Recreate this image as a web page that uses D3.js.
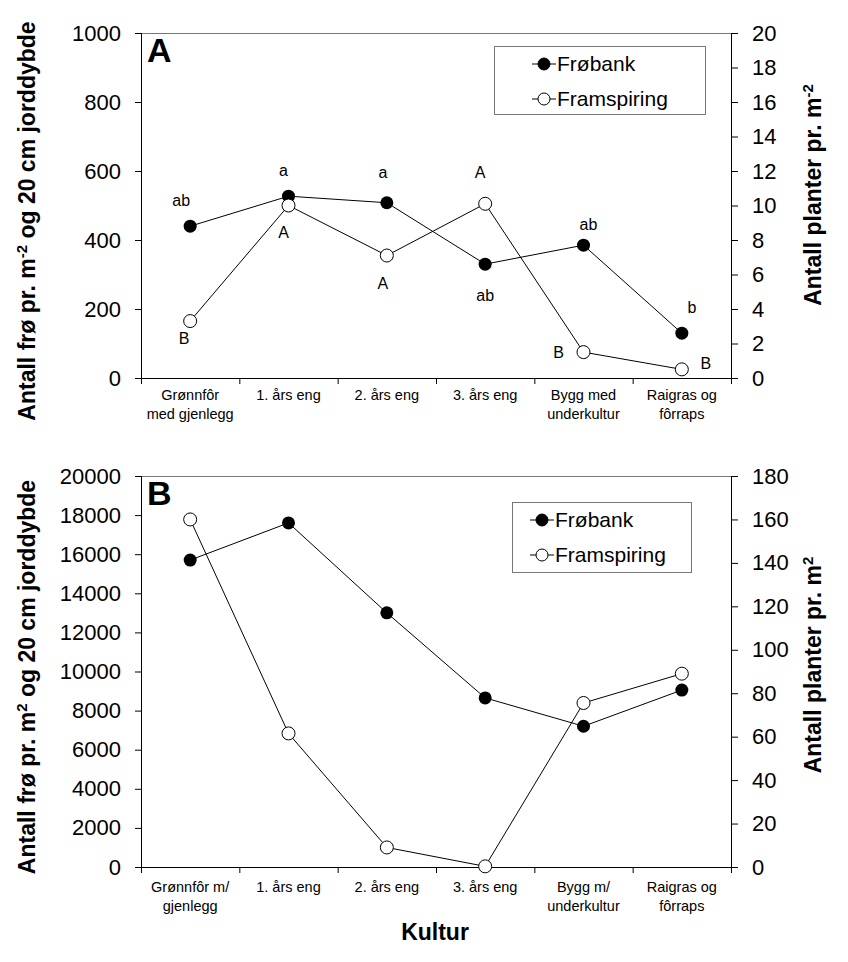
<!DOCTYPE html>
<html>
<head>
<meta charset="utf-8">
<script src="https://cdn.jsdelivr.net/npm/d3@7"></script>
<style>
  body { margin: 0; background: #fff; }
  text { font-family: "Liberation Sans", Arial, sans-serif; fill: #000; }
</style>
</head>
<body>
<div class="chart"></div>
<script>
// categories (each is one or two label lines)
const catsA = [["Grønnfôr", "med gjenlegg"], ["1. års eng"], ["2. års eng"], ["3. års eng"], ["Bygg med", "underkultur"], ["Raigras og", "fôrraps"]];
const catsB = [["Grønnfôr m/", "gjenlegg"], ["1. års eng"], ["2. års eng"], ["3. års eng"], ["Bygg m/", "underkultur"], ["Raigras og", "fôrraps"]];

// panel A values
const frobankA = [440, 527, 508, 330, 385, 130];        // left axis
const framspiringA = [3.3, 10.0, 7.1, 10.1, 1.5, 0.5];  // right axis
const lettersFrobankA = ["ab", "a", "a", "ab", "ab", "b"];
const lettersFramA = ["B", "A", "A", "A", "B", "B"];

// panel B values
const frobankB = [15700, 17600, 13000, 8650, 7200, 9050]; // left axis
const framspiringB = [160, 61.5, 9, 0.3, 75.5, 89];      // right axis

// ticks
const leftTicksA = [0, 200, 400, 600, 800, 1000];
const rightTicksA = [0, 2, 4, 6, 8, 10, 12, 14, 16, 18, 20];
const leftTicksB = [0, 2000, 4000, 6000, 8000, 10000, 12000, 14000, 16000, 18000, 20000];
const rightTicksB = [0, 20, 40, 60, 80, 100, 120, 140, 160, 180];

const width = 848, height = 962;
const svg = d3.select(".chart").append("svg")
  .attr("width", width)
  .attr("height", height);

// letter offsets from the point (label centre)
const offFro = [[-9, -26], [-5, -26], [-4, -30], [0, 31], [5, -21], [10, -26]];
const offFram = [[-6, 17], [-5, 27], [-4, 28], [-5, -31], [-25, 0], [24, -6]];

function panel(o) {
  const g = svg.append("g");
  const x = d3.scaleBand().domain(d3.range(6)).range([o.left, o.right]);
  const xEdge = d3.scaleLinear().domain([0, 6]).range([o.left, o.right]);
  const yL = d3.scaleLinear().domain([0, o.leftTicks[o.leftTicks.length - 1]]).range([o.bottom, o.top]);
  const yR = d3.scaleLinear().domain([0, o.rightTicks[o.rightTicks.length - 1]]).range([o.bottom, o.top]);

  // frame top
  g.append("line")
    .attr("x1", o.left).attr("x2", o.right)
    .attr("y1", o.top + 0.5).attr("y2", o.top + 0.5)
    .attr("stroke", "#777");

  // left axis
  g.append("g")
    .attr("transform", `translate(${o.left},0)`)
    .call(d3.axisLeft(yL).tickValues(o.leftTicks).tickSize(6).tickPadding(14).tickFormat(d3.format("d")))
    .call(a => a.selectAll("text").style("font-size", "22px"))
    .call(a => a.select(".domain").attr("d", `M0.5,${o.top}V${o.bottom}`));

  // right axis
  g.append("g")
    .attr("transform", `translate(${o.right},0)`)
    .call(d3.axisRight(yR).tickValues(o.rightTicks).tickSize(7).tickPadding(14).tickFormat(d3.format("d")))
    .call(a => a.selectAll("text").style("font-size", "22px"))
    .call(a => a.select(".domain").attr("d", `M0.5,${o.top}V${o.bottom}`));

  // bottom axis, ticks on category edges
  g.append("g")
    .attr("transform", `translate(0,${o.bottom})`)
    .call(d3.axisBottom(xEdge).tickValues(d3.range(7)).tickSize(6).tickFormat(""))
    .call(a => a.select(".domain").attr("d", `M${o.left},0.5H${o.right}`));

  // category labels
  const lab = g.append("g").selectAll("text")
    .data(o.cats)
    .join("text")
    .attr("text-anchor", "middle")
    .style("font-size", "14.5px");
  lab.selectAll("tspan")
    .data((d, i) => d.map(s => ({s, i})))
    .join("tspan")
    .attr("x", d => x(d.i) + x.bandwidth() / 2)
    .attr("y", (d, j) => o.labelY + j * 18.5)
    .text(d => d.s);

  const line = d3.line().x((d, i) => x(i) + x.bandwidth() / 2);

  // Frøbank (left)
  g.append("path")
    .datum(o.fro)
    .attr("fill", "none").attr("stroke", "#000").attr("stroke-width", 1)
    .attr("d", line.y(d => yL(d)));
  // Framspiring (right)
  g.append("path")
    .datum(o.fram)
    .attr("fill", "none").attr("stroke", "#000").attr("stroke-width", 1)
    .attr("d", line.y(d => yR(d)));

  g.append("g").selectAll("circle")
    .data(o.fro)
    .join("circle")
    .attr("cx", (d, i) => x(i) + x.bandwidth() / 2)
    .attr("cy", d => yL(d))
    .attr("r", 6.5)
    .attr("fill", "#000");
  g.append("g").selectAll("circle")
    .data(o.fram)
    .join("circle")
    .attr("cx", (d, i) => x(i) + x.bandwidth() / 2)
    .attr("cy", d => yR(d))
    .attr("r", 6.5)
    .attr("fill", "#fff").attr("stroke", "#000");

  // significance letters
  if (o.lettersFro) {
    g.append("g").selectAll("text")
      .data(o.lettersFro)
      .join("text")
      .attr("x", (d, i) => x(i) + x.bandwidth() / 2 + offFro[i][0])
      .attr("y", (d, i) => yL(o.fro[i]) + offFro[i][1])
      .attr("dy", "0.35em")
      .attr("text-anchor", "middle")
      .style("font-size", "16px")
      .text(d => d);
    g.append("g").selectAll("text")
      .data(o.lettersFram)
      .join("text")
      .attr("x", (d, i) => x(i) + x.bandwidth() / 2 + offFram[i][0])
      .attr("y", (d, i) => yR(o.fram[i]) + offFram[i][1])
      .attr("dy", "0.35em")
      .attr("text-anchor", "middle")
      .style("font-size", "16px")
      .text(d => d);
  }

  // panel letter
  g.append("text")
    .attr("x", o.left + 6).attr("y", o.top + 29)
    .style("font-size", "34px").style("font-weight", "bold")
    .text(o.name);

  // legend
  const lg = g.append("g").attr("transform", `translate(${o.legend[0]},${o.legend[1]})`);
  lg.append("rect")
    .attr("x", 0.5).attr("y", 0.5)
    .attr("width", o.legend[2]).attr("height", o.legend[3])
    .attr("fill", "#fff").attr("stroke", "#777");
  ["Frøbank", "Framspiring"].forEach((name, k) => {
    const cy = o.legendRows[k];
    const sx = o.legendSample;
    lg.append("line")
      .attr("x1", sx).attr("x2", sx + 24)
      .attr("y1", cy).attr("y2", cy)
      .attr("stroke", "#000");
    lg.append("circle")
      .attr("cx", sx + 12).attr("cy", cy).attr("r", 6)
      .attr("fill", k === 0 ? "#000" : "#fff").attr("stroke", "#000");
    lg.append("text")
      .attr("x", sx + 25).attr("y", cy).attr("dy", "0.35em")
      .style("font-size", "21px")
      .text(name);
  });

  // axis titles
  const lt = g.append("text")
    .attr("transform", `translate(${o.leftTitle[0]},${o.leftTitle[1]}) rotate(-90)`)
    .attr("text-anchor", "middle")
    .style("font-size", "23px").style("font-weight", "bold");
  lt.append("tspan").text("Antall frø pr. m");
  lt.append("tspan").attr("baseline-shift", "super").style("font-size", "15px").text(o.sup);
  lt.append("tspan").text(" og 20 cm jorddybde");

  const rt = g.append("text")
    .attr("transform", `translate(${o.rightTitle[0]},${o.rightTitle[1]}) rotate(-90)`)
    .attr("text-anchor", "middle")
    .style("font-size", "23px").style("font-weight", "bold");
  rt.append("tspan").text("Antall planter pr. m");
  rt.append("tspan").attr("baseline-shift", "super").style("font-size", "15px").text(o.sup);
}

panel({
  name: "A", cats: catsA, fro: frobankA, fram: framspiringA,
  lettersFro: lettersFrobankA, lettersFram: lettersFramA,
  leftTicks: leftTicksA, rightTicks: rightTicksA,
  left: 141, right: 731, top: 33, bottom: 378, labelY: 400,
  legend: [494, 46, 211, 68], legendRows: [18, 53], legendSample: 38,
  leftTitle: [35, 221], rightTitle: [821, 195], sup: "-2"
});

panel({
  name: "B", cats: catsB, fro: frobankB, fram: framspiringB,
  leftTicks: leftTicksB, rightTicks: rightTicksB,
  left: 141, right: 731, top: 476, bottom: 867, labelY: 892,
  legend: [512, 502, 179, 70], legendRows: [18, 53], legendSample: 18,
  leftTitle: [35, 677], rightTitle: [821, 665], sup: "2"
});

// x axis title
svg.append("text")
  .attr("x", 435).attr("y", 940)
  .attr("text-anchor", "middle")
  .style("font-size", "23px").style("font-weight", "bold")
  .text("Kultur");
</script>
</body>
</html>
